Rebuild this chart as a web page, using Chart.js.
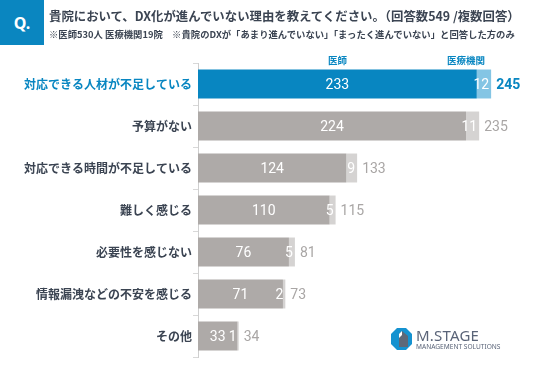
<!DOCTYPE html>
<html lang="ja">
<head>
<meta charset="utf-8">
<script src="https://cdn.jsdelivr.net/npm/chart.js@4.4.0/dist/chart.umd.min.js"></script>
<style>
  body { margin: 0; background: #fff; font-family: "Noto Sans CJK JP", sans-serif; }
  #wrap { position: relative; width: 536px; height: 368px; overflow: hidden; }
  #chartBox { position: absolute; left: 0; top: 0; width: 536px; height: 368px; }
  .qbox { position: absolute; left: 0; top: 0; width: 44px; height: 45px; background: #0a86c0;
          color: #fff; font: bold 16px "Noto Sans", sans-serif; display: flex; align-items: center; justify-content: center; }
  .title { position: absolute; left: 49px; top: 7px; font-weight: bold; font-size: 12.4px; color: #3b4452; white-space: nowrap; }
  .sub { position: absolute; left: 49px; top: 27px; font-weight: bold; font-size: 9.35px; color: #3b4452; white-space: nowrap; }
  .logo { position: absolute; left: 391px; top: 327px; }
  .logo svg { position: absolute; left: 0; top: 1px; }
  .logo .name { position: absolute; left: 25px; top: -2px; font: 15px "Noto Sans", sans-serif; color: #5a6478; letter-spacing: 0.2px; white-space: nowrap; }
  .logo .tag { position: absolute; left: 25px; top: 15px; font: 6.6px "Noto Sans", sans-serif; color: #5a6478; white-space: nowrap; }
</style>
</head>
<body>
<div id="wrap">
  <div id="chartBox"><canvas id="reasonChart"></canvas></div>
  <div class="qbox">Q.</div>
  <div class="title">貴院において、DX化が進んでいない理由を教えてください。（回答数549 /複数回答）</div>
  <div class="sub">※医師530人 医療機関19院　※貴院のDXが「あまり進んでいない」「まったく進んでいない」と回答した方のみ</div>
  <div class="logo">
    <svg width="21" height="22" viewBox="0 0 21 22">
      <polygon points="6,0 15,0 21,6 21,16 15,22 6,22 0,16 0,6" fill="#1592d0"/>
      <polygon points="11,3 17,8 17,19 8,19 8,6" fill="#5e6878"/>
      <polygon points="11,3 8,6 8,10 11,7" fill="#ffffff"/>
    </svg>
    <div class="name">M.STAGE</div>
    <div class="tag">MANAGEMENT SOLUTIONS</div>
  </div>
</div>
<script>
const categories = [
    '対応できる人材が不足している',
    '予算がない',
    '対応できる時間が不足している',
    '難しく感じる',
    '必要性を感じない',
    '情報漏洩などの不安を感じる',
    'その他',
];
const doctors = [233, 224, 124, 110, 76, 71, 33];
const institutions = [12, 11, 9, 5, 5, 2, 1];
const totals = [245, 235, 133, 115, 81, 73, 34];

const BLUE = '#0886c1';
const BLUE_LIGHT = '#84c5e4';
const GRAY = '#aeaaa8';
const GRAY_LIGHT = '#d5d3d2';
const NUM_FONT = '"Liberation Sans Narrow", "Roboto", sans-serif';

const barLabels = {
    id: 'barLabels',
    afterDatasetsDraw(chart) {
        const ctx = chart.ctx;
        const docMeta = chart.getDatasetMeta(0);
        const instMeta = chart.getDatasetMeta(1);
        ctx.save();
        ctx.textBaseline = 'middle';
        docMeta.data.forEach((bar, i) => {
            const inst = instMeta.data[i];
            ctx.font = '14px ' + NUM_FONT;
            ctx.fillStyle = '#ffffff';
            ctx.textAlign = 'center';
            ctx.fillText(doctors[i], (bar.base + bar.x) / 2, bar.y + 1);
            ctx.textAlign = 'right';
            ctx.fillText(institutions[i], inst.x - 2, inst.y + 1);
            ctx.textAlign = 'left';
            ctx.fillStyle = i === 0 ? BLUE : '#a9a6a5';
            ctx.font = (i === 0 ? 'bold ' : '') + '14px ' + NUM_FONT;
            ctx.fillText(totals[i], inst.x + 5, inst.y + 1);
        });
        // series names above the first bar
        const b0 = docMeta.data[0];
        const i0 = instMeta.data[0];
        const top = b0.y - b0.height / 2 - 9;
        ctx.fillStyle = BLUE;
        ctx.font = 'bold 9.5px "Noto Sans CJK JP", sans-serif';
        ctx.textAlign = 'center';
        ctx.fillText('医師', (b0.base + b0.x) / 2, top);
        ctx.textAlign = 'right';
        ctx.fillText('医療機関', i0.x - 6, top);
        ctx.restore();
    },
};

new Chart(document.getElementById('reasonChart'), {
    type: 'bar',
    data: {
        labels: categories,
        datasets: [
            {
                label: '医師',
                data: doctors,
                backgroundColor: doctors.map((v, i) => (i === 0 ? BLUE : GRAY)),
                categoryPercentage: 1,
                barPercentage: 0.69,
            },
            {
                label: '医療機関',
                data: institutions,
                backgroundColor: institutions.map((v, i) => (i === 0 ? BLUE_LIGHT : GRAY_LIGHT)),
                categoryPercentage: 1,
                barPercentage: 0.69,
            },
        ],
    },
    options: {
        indexAxis: 'y',
        responsive: true,
        maintainAspectRatio: false,
        animation: false,
        layout: { padding: { left: 0, right: 3, top: 63, bottom: 11 } },
        plugins: {
            legend: { display: false },
            tooltip: { enabled: false },
        },
        scales: {
            x: {
                stacked: true,
                display: false,
                min: 0,
                max: 280,
            },
            y: {
                stacked: true,
                afterFit(scale) {
                    scale.width = 198;
                },
                grid: {
                    offset: true,
                    drawOnChartArea: false,
                    tickLength: 5,
                    color: '#d8d8d8',
                },
                border: { color: '#cfcfcf' },
                ticks: {
                    padding: 1,
                    color: (c) => (c.index === 0 ? BLUE : '#3b4452'),
                    font: {
                        family: '"Noto Sans CJK JP", sans-serif',
                        size: 12,
                        weight: 'bold',
                    },
                },
            },
        },
    },
    plugins: [barLabels],
});
</script>
</body>
</html>
